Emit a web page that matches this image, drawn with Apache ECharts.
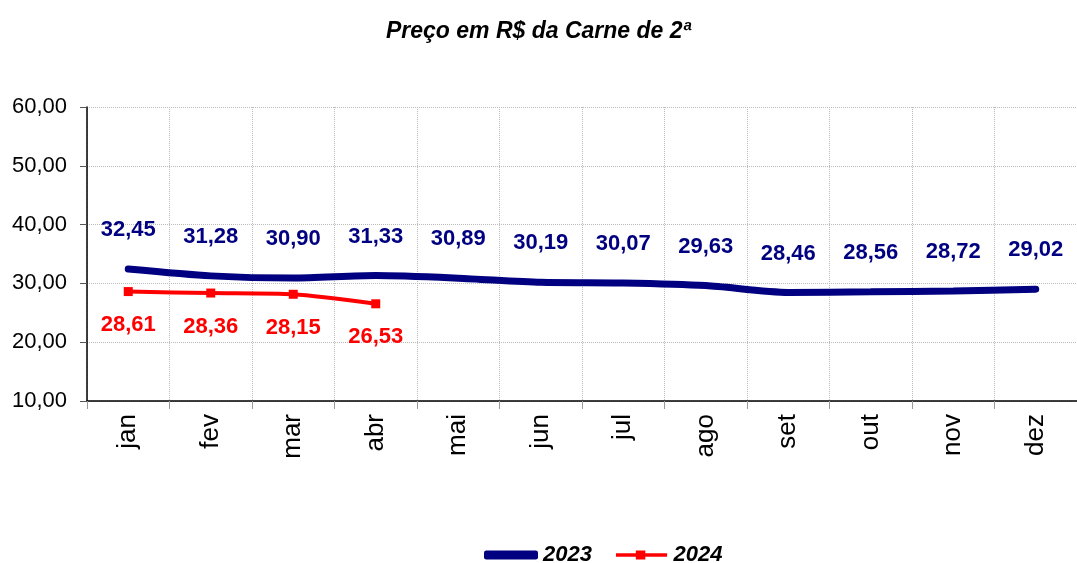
<!DOCTYPE html>
<html><head><meta charset="utf-8">
<script src="https://cdn.jsdelivr.net/npm/echarts@6/dist/echarts.min.js"></script>
<style>html,body{margin:0;padding:0;background:#fff}#c{width:1077px;height:563px}</style>
</head><body><div id="c"></div>
<script>
const categories = ['jan','fev','mar','abr','mai','jun','jul','ago','set','out','nov','dez'];
const values2023 = [32.45,31.28,30.90,31.33,30.89,30.19,30.07,29.63,28.46,28.56,28.72,29.02];
const values2024 = [28.61,28.36,28.15,26.53];
const yTicks = [10,20,30,40,50,60];
const fmt = v => v.toFixed(2).replace('.', ',');
const font = '"Liberation Sans", Arial, sans-serif';
const chart = echarts.init(document.getElementById('c'));
chart.setOption({
  animation:false,
  title:{text:'Preço em R$ da Carne de 2ª',left:'center',top:15,
    textStyle:{fontFamily:font,fontSize:23,fontWeight:'bold',fontStyle:'italic',color:'#000'}},
  grid:{left:87,top:107,width:996,height:294,containLabel:false},
  legend:{top:539,left:479,itemWidth:54,itemHeight:9,itemGap:24,
    textStyle:{fontFamily:font,fontSize:22,fontWeight:'bold',fontStyle:'italic',color:'#000'},
    data:[{name:'2023',icon:'roundRect'},
          {name:'2024',icon:'path://M0,3L21,3L21,0L31,0L31,3L54,3L54,6.5L31,6.5L31,9.5L21,9.5L21,6.5L0,6.5Z'}]},
  xAxis:{type:'category',data:categories,boundaryGap:true,
    axisLine:{lineStyle:{color:'#000',width:1.5}},
    axisTick:{show:true,length:8,lineStyle:{color:'#999'}},
    splitLine:{show:true,lineStyle:{color:'#bbb',type:'dotted'}},
    axisLabel:{rotate:90,fontFamily:font,fontSize:26,color:'#000',margin:13}},
  yAxis:{type:'value',min:yTicks[0],max:yTicks[yTicks.length-1],interval:10,
    axisLine:{show:true,lineStyle:{color:'#000',width:1.5}},
    axisTick:{show:true,length:7,lineStyle:{color:'#555'}},
    splitLine:{show:true,lineStyle:{color:'#bbb',type:'dotted'}},
    axisLabel:{fontFamily:font,fontSize:22,color:'#000',margin:20,formatter:v=>fmt(v)}},
  series:[
    {name:'2023',type:'line',data:values2023,smooth:0.25,showSymbol:true,symbol:'circle',symbolSize:0,
      lineStyle:{color:'#000080',width:7,cap:'round'},itemStyle:{color:'#000080'},
      label:{show:true,position:'top',distance:28,formatter:p=>fmt(p.value),
        fontFamily:font,fontSize:22,fontWeight:'bold',color:'#000080'}},
    {name:'2024',type:'line',data:values2024,smooth:0.25,symbol:'rect',symbolSize:9,
      lineStyle:{color:'#ff0000',width:4},itemStyle:{color:'#ff0000'},
      label:{show:true,position:'bottom',distance:18,formatter:p=>fmt(p.value),
        fontFamily:font,fontSize:22,fontWeight:'bold',color:'#ff0000'}}
  ]
});
</script></body></html>
